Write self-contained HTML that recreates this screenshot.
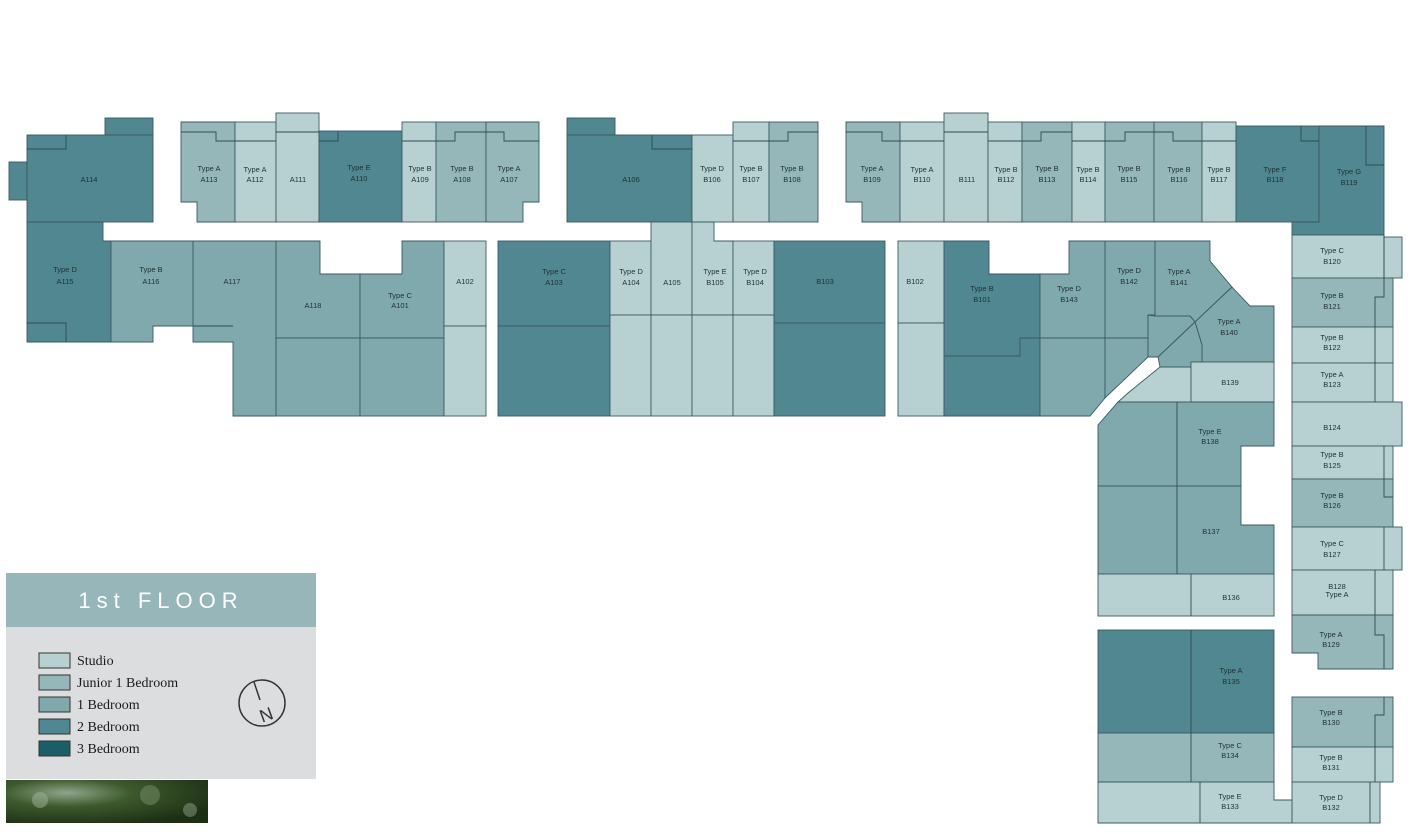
<!DOCTYPE html>
<html><head><meta charset="utf-8"><style>
body{margin:0;background:#fff;width:1412px;height:834px;overflow:hidden;position:relative;font-family:"Liberation Sans",sans-serif}
svg{position:absolute;left:0;top:0}
.s{fill:#b7d1d2}.j{fill:#95b7ba}.o{fill:#80a9ad}.t{fill:#508790}.h{fill:#1b5e68}
.u{stroke:#3b5a60;stroke-width:0.9}
.l{fill:none;stroke:#2e4c52;stroke-width:0.9}
text{font-family:"Liberation Sans",sans-serif;font-size:7.5px;fill:#1f3135;text-anchor:middle}
</style></head><body>
<svg width="1412" height="834" viewBox="0 0 1412 834">
<g class="u">
<rect class="t" x="105" y="118" width="48" height="17"/>
<rect class="t" x="9" y="162" width="18" height="38"/>
<rect class="t" x="27" y="135" width="126" height="87"/>
<polygon class="t" points="27,222 103,222 103,241 111,241 111,342 27,342"/>
<polygon class="o" points="111,241 193,241 193,326 153,326 153,342 111,342"/>
<polygon class="o" points="193,241 276,241 276,416 233,416 233,342 193,342"/>
<polygon class="o" points="276,241 320,241 320,274 360,274 360,338 276,338"/>
<rect class="o" x="276" y="338" width="84" height="78"/>
<polygon class="o" points="360,274 402,274 402,241 444,241 444,338 360,338"/>
<rect class="o" x="360" y="338" width="84" height="78"/>
<rect class="s" x="444" y="241" width="42" height="85"/>
<rect class="s" x="444" y="326" width="42" height="90"/>
<polygon class="j" points="181,122 235,122 235,222 197,222 197,202 181,202"/>
<rect class="s" x="235" y="122" width="41" height="100"/>
<rect class="s" x="276" y="113" width="43" height="109"/>
<rect class="t" x="319" y="131" width="83" height="91"/>
<rect class="s" x="402" y="122" width="34" height="100"/>
<rect class="j" x="436" y="122" width="50" height="100"/>
<polygon class="j" points="486,122 539,122 539,202 523,202 523,222 486,222"/>
<rect class="t" x="567" y="118" width="48" height="17"/>
<rect class="t" x="567" y="135" width="125" height="87"/>
<rect class="s" x="692" y="135" width="41" height="87"/>
<rect class="s" x="733" y="122" width="36" height="100"/>
<rect class="j" x="769" y="122" width="49" height="100"/>
<rect class="t" x="498" y="241" width="112" height="85"/>
<rect class="t" x="498" y="326" width="112" height="90"/>
<rect class="s" x="610" y="241" width="41" height="74"/>
<rect class="s" x="610" y="315" width="41" height="101"/>
<rect class="s" x="651" y="222" width="41" height="93"/>
<rect class="s" x="651" y="315" width="41" height="101"/>
<polygon class="s" points="692,222 714,222 714,241 733,241 733,315 692,315"/>
<rect class="s" x="692" y="315" width="41" height="101"/>
<rect class="s" x="733" y="241" width="41" height="74"/>
<rect class="s" x="733" y="315" width="41" height="101"/>
<rect class="t" x="774" y="241" width="111" height="82"/>
<rect class="t" x="774" y="323" width="111" height="93"/>
<polygon class="j" points="846,122 900,122 900,222 862,222 862,202 846,202"/>
<rect class="s" x="900" y="122" width="44" height="100"/>
<rect class="s" x="944" y="113" width="44" height="109"/>
<rect class="s" x="988" y="122" width="34" height="100"/>
<rect class="j" x="1022" y="122" width="50" height="100"/>
<rect class="s" x="1072" y="122" width="33" height="100"/>
<rect class="j" x="1105" y="122" width="49" height="100"/>
<rect class="j" x="1154" y="122" width="48" height="100"/>
<rect class="s" x="1202" y="122" width="34" height="100"/>
<rect class="t" x="1236" y="126" width="83" height="96"/>
<polygon class="t" points="1319,126 1384,126 1384,235 1292,235 1292,222 1319,222"/>
<rect class="s" x="1384" y="237" width="18" height="41"/>
<rect class="s" x="1292" y="235" width="92" height="43"/>
<rect class="j" x="1292" y="278" width="101" height="49"/>
<rect class="s" x="1292" y="327" width="101" height="36"/>
<rect class="s" x="1292" y="363" width="101" height="39"/>
<rect class="s" x="1292" y="402" width="110" height="44"/>
<rect class="s" x="1292" y="446" width="101" height="33"/>
<rect class="j" x="1292" y="479" width="101" height="48"/>
<rect class="s" x="1292" y="527" width="110" height="43"/>
<rect class="s" x="1292" y="570" width="101" height="45"/>
<polygon class="j" points="1292,615 1393,615 1393,669 1318,669 1318,653 1292,653"/>
<rect class="j" x="1292" y="697" width="101" height="50"/>
<rect class="s" x="1292" y="747" width="101" height="35"/>
<rect class="s" x="1292" y="782" width="88" height="41"/>
<rect class="s" x="898" y="241" width="46" height="82"/>
<rect class="s" x="898" y="323" width="46" height="93"/>
<polygon class="t" points="944,241 989,241 989,274 1040,274 1040,338 1020,338 1020,356 944,356"/>
<polygon class="t" points="944,356 1020,356 1020,338 1040,338 1040,416 944,416"/>
<polygon class="o" points="1040,274 1069,274 1069,241 1105,241 1105,338 1040,338"/>
<polygon class="o" points="1040,338 1105,338 1105,398 1090,416 1040,416"/>
<polygon class="o" points="1105,241 1155,241 1155,315 1148,315 1148,338 1105,338"/>
<polygon class="o" points="1105,338 1148,338 1148,357 1105,398"/>
<polygon class="o" points="1155,241 1210,241 1210,261 1232,287 1195,322 1190,316 1155,316"/>
<polygon class="o" points="1232,287 1250,306 1274,306 1274,362 1202,362 1202,345 1195,322"/>
<polygon class="o" points="1155,316 1190,316 1195,322 1158,357 1148,357 1148,315"/>
<polygon class="o" points="1195,322 1202,345 1202,362 1191,362 1191,367 1160,367 1158,357"/>
<polygon class="s" points="1160,367 1191,367 1191,402 1118,402 1128,393"/>
<rect class="s" x="1191" y="362" width="83" height="40"/>
<polygon class="o" points="1098,425 1118,402 1274,402 1274,446 1241,446 1241,486 1098,486"/>
<polygon class="o" points="1098,486 1241,486 1241,525 1274,525 1274,574 1098,574"/>
<rect class="s" x="1098" y="574" width="176" height="42"/>
<rect class="t" x="1098" y="630" width="176" height="103"/>
<rect class="j" x="1098" y="733" width="176" height="49"/>
<polygon class="s" points="1098,782 1274,782 1274,800 1292,800 1292,823 1098,823"/>
</g>
<g class="l">
<polyline points="27,149 66,149 66,135"/><polyline points="27,323 66,323 66,342"/>
<polyline points="181,132 216,132 216,141 235,141"/><line x1="235" y1="141" x2="276" y2="141"/><line x1="276" y1="132" x2="319" y2="132"/>
<polyline points="319,141 338,141 338,131"/><line x1="402" y1="141" x2="436" y2="141"/>
<polyline points="436,141 455,141 455,132 486,132"/><polyline points="486,132 504,132 504,141 539,141"/>
<line x1="193" y1="326" x2="233" y2="326"/>
<polyline points="652,135 652,149 692,149"/><line x1="733" y1="141" x2="769" y2="141"/>
<polyline points="769,141 788,141 788,132 818,132"/>
<polyline points="846,132 882,132 882,141 900,141"/><line x1="900" y1="141" x2="944" y2="141"/><line x1="944" y1="132" x2="988" y2="132"/>
<line x1="988" y1="141" x2="1022" y2="141"/><polyline points="1022,141 1041,141 1041,132 1072,132"/>
<line x1="1072" y1="141" x2="1105" y2="141"/><polyline points="1105,141 1125,141 1125,132 1154,132"/>
<polyline points="1154,132 1173,132 1173,141 1202,141"/><line x1="1202" y1="141" x2="1236" y2="141"/>
<polyline points="1301,126 1301,141 1319,141"/><polyline points="1366,126 1366,165 1384,165"/>
<polyline points="1384,235 1384,297 1375,297 1375,402"/>
<line x1="1384" y1="446" x2="1384" y2="479"/><polyline points="1384,479 1384,497 1393,497"/><line x1="1384" y1="527" x2="1384" y2="570"/>
<polyline points="1375,570 1375,635 1384,635 1384,669"/><polyline points="1384,697 1384,715 1375,715 1375,782"/><line x1="1370" y1="782" x2="1370" y2="823"/>
<line x1="1177" y1="402" x2="1177" y2="574"/><line x1="1191" y1="574" x2="1191" y2="616"/>
<line x1="1191" y1="630" x2="1191" y2="782"/><line x1="1200" y1="782" x2="1200" y2="823"/>
</g>
<g>
<text x="89" y="182">A114</text>
<text x="65" y="272">Type D</text><text x="65" y="284">A115</text>
<text x="151" y="272">Type B</text><text x="151" y="284">A116</text>
<text x="232" y="284">A117</text><text x="313" y="308">A118</text>
<text x="400" y="298">Type C</text><text x="400" y="308">A101</text>
<text x="465" y="284">A102</text>
<text x="209" y="171">Type A</text><text x="209" y="182">A113</text>
<text x="255" y="172">Type A</text><text x="255" y="182">A112</text>
<text x="298" y="182">A111</text>
<text x="359" y="170">Type E</text><text x="359" y="181">A110</text>
<text x="420" y="171">Type B</text><text x="420" y="182">A109</text>
<text x="462" y="171">Type B</text><text x="462" y="182">A108</text>
<text x="509" y="171">Type A</text><text x="509" y="182">A107</text>
<text x="631" y="182">A106</text>
<text x="712" y="171">Type D</text><text x="712" y="182">B106</text>
<text x="751" y="171">Type B</text><text x="751" y="182">B107</text>
<text x="792" y="171">Type B</text><text x="792" y="182">B108</text>
<text x="554" y="274">Type C</text><text x="554" y="285">A103</text>
<text x="631" y="274">Type D</text><text x="631" y="285">A104</text>
<text x="672" y="285">A105</text>
<text x="715" y="274">Type E</text><text x="715" y="285">B105</text>
<text x="755" y="274">Type D</text><text x="755" y="285">B104</text>
<text x="825" y="284">B103</text>
<text x="872" y="171">Type A</text><text x="872" y="182">B109</text>
<text x="922" y="172">Type A</text><text x="922" y="182">B110</text>
<text x="967" y="182">B111</text>
<text x="1006" y="172">Type B</text><text x="1006" y="182">B112</text>
<text x="1047" y="171">Type B</text><text x="1047" y="182">B113</text>
<text x="1088" y="172">Type B</text><text x="1088" y="182">B114</text>
<text x="1129" y="171">Type B</text><text x="1129" y="182">B115</text>
<text x="1179" y="172">Type B</text><text x="1179" y="182">B116</text>
<text x="1219" y="172">Type B</text><text x="1219" y="182">B117</text>
<text x="1275" y="172">Type F</text><text x="1275" y="182">B118</text>
<text x="1349" y="174">Type G</text><text x="1349" y="185">B119</text>
<text x="915" y="284">B102</text>
<text x="982" y="291">Type B</text><text x="982" y="302">B101</text>
<text x="1069" y="291">Type D</text><text x="1069" y="302">B143</text>
<text x="1129" y="273">Type D</text><text x="1129" y="284">B142</text>
<text x="1179" y="274">Type A</text><text x="1179" y="285">B141</text>
<text x="1229" y="324">Type A</text><text x="1229" y="335">B140</text>
<text x="1230" y="385">B139</text>
<text x="1210" y="434">Type E</text><text x="1210" y="444">B138</text>
<text x="1211" y="534">B137</text><text x="1231" y="600">B136</text>
<text x="1231" y="673">Type A</text><text x="1231" y="684">B135</text>
<text x="1230" y="748">Type C</text><text x="1230" y="758">B134</text>
<text x="1230" y="799">Type E</text><text x="1230" y="809">B133</text>
<text x="1332" y="253">Type C</text><text x="1332" y="264">B120</text>
<text x="1332" y="298">Type B</text><text x="1332" y="309">B121</text>
<text x="1332" y="340">Type B</text><text x="1332" y="350">B122</text>
<text x="1332" y="377">Type A</text><text x="1332" y="387">B123</text>
<text x="1332" y="430">B124</text>
<text x="1332" y="457">Type B</text><text x="1332" y="468">B125</text>
<text x="1332" y="498">Type B</text><text x="1332" y="508">B126</text>
<text x="1332" y="546">Type C</text><text x="1332" y="557">B127</text>
<text x="1337" y="589">B128</text><text x="1337" y="597">Type A</text>
<text x="1331" y="637">Type A</text><text x="1331" y="647">B129</text>
<text x="1331" y="715">Type B</text><text x="1331" y="725">B130</text>
<text x="1331" y="760">Type B</text><text x="1331" y="770">B131</text>
<text x="1331" y="800">Type D</text><text x="1331" y="810">B132</text>
</g>
<rect x="6" y="573" width="310" height="54" fill="#97b6ba"/>
<rect x="6" y="627" width="310" height="152" fill="#dcdddf"/>
<text x="161" y="608" style="font-family:'Liberation Sans',sans-serif;font-size:22px;fill:#fff;letter-spacing:6px">1st FLOOR</text>
<g stroke="#333" stroke-width="1">
<rect x="39" y="653" width="31" height="15" fill="#b7d1d2"/>
<rect x="39" y="675" width="31" height="15" fill="#95b7ba"/>
<rect x="39" y="697" width="31" height="15" fill="#80a9ad"/>
<rect x="39" y="719" width="31" height="15" fill="#508790"/>
<rect x="39" y="741" width="31" height="15" fill="#1b5e68"/>
</g>
<text x="77" y="665" style="font-size:14px;text-anchor:start;fill:#1a1a1a;font-family:'Liberation Serif',serif">Studio</text>
<text x="77" y="687" style="font-size:14px;text-anchor:start;fill:#1a1a1a;font-family:'Liberation Serif',serif">Junior 1 Bedroom</text>
<text x="77" y="709" style="font-size:14px;text-anchor:start;fill:#1a1a1a;font-family:'Liberation Serif',serif">1 Bedroom</text>
<text x="77" y="731" style="font-size:14px;text-anchor:start;fill:#1a1a1a;font-family:'Liberation Serif',serif">2 Bedroom</text>
<text x="77" y="753" style="font-size:14px;text-anchor:start;fill:#1a1a1a;font-family:'Liberation Serif',serif">3 Bedroom</text>
<circle cx="262" cy="703" r="23" fill="none" stroke="#333" stroke-width="1.5"/>
<line x1="254" y1="682" x2="260" y2="700" stroke="#333" stroke-width="1.5"/>
<text x="266" y="721" transform="rotate(-20 266 714)" style="font-size:18px;fill:#333;font-family:'Liberation Sans',sans-serif">N</text>
<defs><radialGradient id="g1" cx="0.3" cy="0.3" r="0.8"><stop offset="0" stop-color="#8fa58a"/><stop offset="0.4" stop-color="#3d5a2c"/><stop offset="1" stop-color="#1c2e14"/></radialGradient></defs>
<rect x="6" y="780" width="202" height="43" fill="url(#g1)"/>
<circle cx="40" cy="800" r="8" fill="#9fb29c" opacity="0.5"/><circle cx="150" cy="795" r="10" fill="#8aa07f" opacity="0.4"/><circle cx="190" cy="810" r="7" fill="#a9b8a5" opacity="0.4"/>
</svg>
</body></html>
